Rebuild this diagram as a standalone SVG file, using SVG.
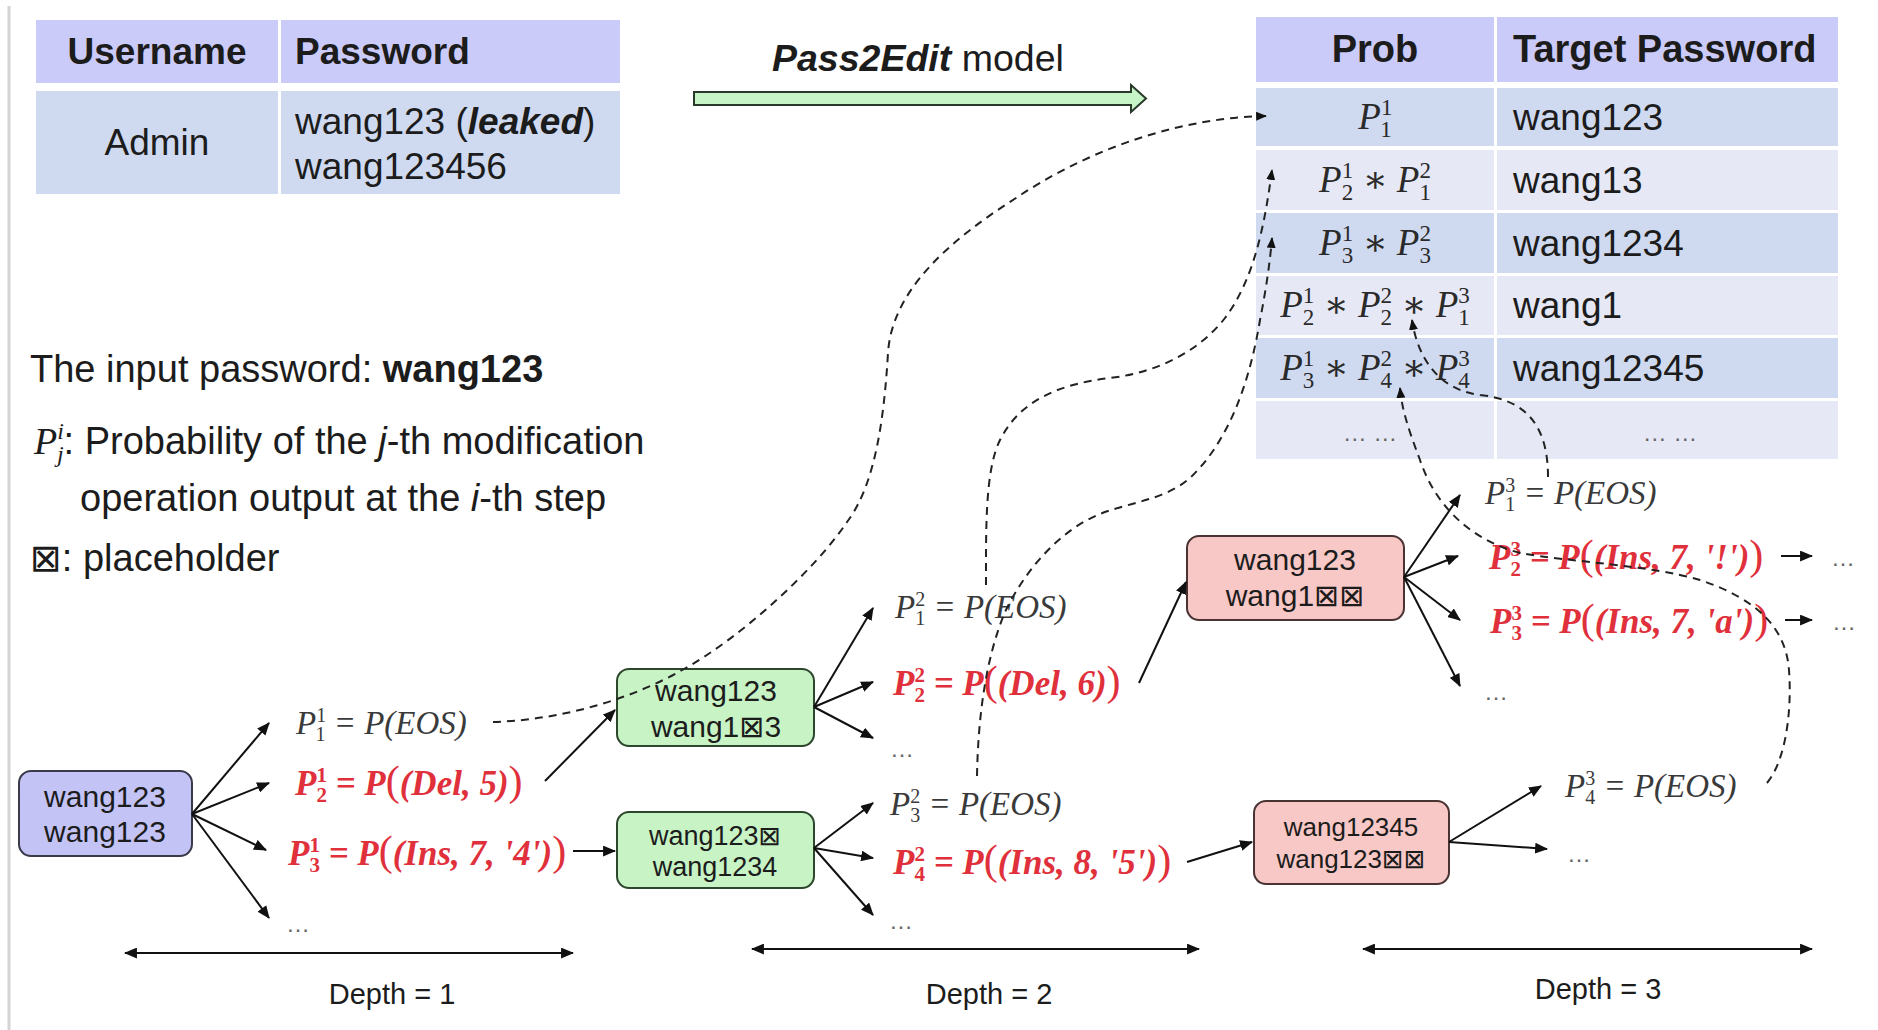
<svg xmlns="http://www.w3.org/2000/svg" width="1878" height="1030" viewBox="0 0 1878 1030">
<defs>
<style>
.sans{font-family:"Liberation Sans",Arial,"DejaVu Sans",sans-serif;fill:#1c1c1c}
.b{font-weight:bold}
.m{font-family:"Liberation Serif","DejaVu Serif",serif;font-style:italic;fill:#3a3a3a;font-size:33px}
.r{font-family:"Liberation Serif","DejaVu Serif",serif;font-style:italic;font-weight:bold;fill:#e0303b;font-size:35px}
.t{font-family:"Liberation Serif","DejaVu Serif",serif;font-style:italic;fill:#2a2a2a;font-size:37px}
.s1{font-size:20px;font-style:normal}
.s2{font-size:21px;font-style:normal}
.s3{font-size:23px;font-style:normal}
.bp{font-size:42px;font-weight:normal;font-style:normal}
.mi{font-family:"Liberation Serif","DejaVu Serif",serif;font-style:italic}
.li{font-family:"Liberation Serif","DejaVu Serif",serif;font-style:italic;font-size:24px}
.ell{font-family:"Liberation Sans",Arial,sans-serif;font-size:24px;fill:#666}
.conn{fill:none;stroke:#111;stroke-width:2}
.dash{fill:none;stroke:#222;stroke-width:2;stroke-dasharray:8 6}
.hdr{fill:#cbcbf9}
.rowA{fill:#cfdaf1}
.rowB{fill:#e6e9f5}
.nb{fill:#c3c3f6;stroke:#3a3a4a;stroke-width:2}
.ng{fill:#c7f3c5;stroke:#2d472d;stroke-width:2}
.np{fill:#f8c8c6;stroke:#4a3333;stroke-width:2}
</style>
<marker id="ah" viewBox="0 0 12 10" refX="11" refY="5" markerWidth="13" markerHeight="11" markerUnits="userSpaceOnUse" orient="auto"><path d="M0,0 L12,5 L0,10 z" fill="#111"/></marker>
<marker id="ahs" viewBox="0 0 12 10" refX="11" refY="5" markerWidth="11" markerHeight="9" markerUnits="userSpaceOnUse" orient="auto"><path d="M0,0 L12,5 L0,10 z" fill="#111"/></marker>
<marker id="ahd" viewBox="0 0 12 10" refX="11" refY="5" markerWidth="13" markerHeight="11" markerUnits="userSpaceOnUse" orient="auto-start-reverse"><path d="M0,0 L12,5 L0,10 z" fill="#111"/></marker>
</defs>
<rect width="1878" height="1030" fill="#ffffff"/>
<line x1="9" y1="6" x2="9" y2="1030" stroke="#d4d4d4" stroke-width="3"/>

<g id="login-table">
<rect class="hdr" x="36" y="20" width="242" height="63"/>
<rect class="hdr" x="281" y="20" width="339" height="63"/>
<rect class="rowA" x="36" y="91" width="242" height="103"/>
<rect class="rowA" x="281" y="91" width="339" height="103"/>
<text class="sans b" x="157" y="64" font-size="37" text-anchor="middle">Username</text>
<text class="sans b" x="295" y="64" font-size="37">Password</text>
<text class="sans" x="157" y="155" font-size="37" text-anchor="middle">Admin</text>
<text class="sans" x="295" y="134" font-size="37">wang123 (<tspan font-weight="bold" font-style="italic">leaked</tspan>)</text>
<text class="sans" x="295" y="179" font-size="37">wang123456</text>
</g>

<g id="model-arrow">
<polygon points="694,92 1131,92 1131,85 1146,98.5 1131,112 1131,105 694,105" fill="#c7f5c7" stroke="#2a3a2a" stroke-width="2"/>
<text class="sans" x="772" y="71" font-size="37.5"><tspan font-weight="bold" font-style="italic">Pass2Edit</tspan> model</text>
</g>

<g id="result-table">
<rect class="hdr" x="1256" y="17" width="238" height="65"/>
<rect class="hdr" x="1497" y="17" width="341" height="65"/>
<rect class="rowA" x="1256" y="88" width="238" height="58"/>
<rect class="rowA" x="1497" y="88" width="341" height="58"/>
<rect class="rowB" x="1256" y="150" width="238" height="60"/>
<rect class="rowB" x="1497" y="150" width="341" height="60"/>
<rect class="rowA" x="1256" y="213" width="238" height="60"/>
<rect class="rowA" x="1497" y="213" width="341" height="60"/>
<rect class="rowB" x="1256" y="276" width="238" height="59"/>
<rect class="rowB" x="1497" y="276" width="341" height="59"/>
<rect class="rowA" x="1256" y="338" width="238" height="60"/>
<rect class="rowA" x="1497" y="338" width="341" height="60"/>
<rect class="rowB" x="1256" y="401" width="238" height="58"/>
<rect class="rowB" x="1497" y="401" width="341" height="58"/>
<text class="sans b" x="1375" y="62" font-size="38" text-anchor="middle">Prob</text>
<text class="sans b" x="1513" y="62" font-size="38">Target Password</text>
<text class="t" x="1375" y="129" text-anchor="middle">P<tspan class="s3" dy="-14">1</tspan><tspan class="s3" dx="-11.5" dy="22">1</tspan></text>
<text class="t" x="1375" y="192" text-anchor="middle">P<tspan class="s3" dy="-14">1</tspan><tspan class="s3" dx="-11.5" dy="22">2</tspan><tspan dy="-8"> ∗ P</tspan><tspan class="s3" dy="-14">2</tspan><tspan class="s3" dx="-11.5" dy="22">1</tspan></text>
<text class="t" x="1375" y="255" text-anchor="middle">P<tspan class="s3" dy="-14">1</tspan><tspan class="s3" dx="-11.5" dy="22">3</tspan><tspan dy="-8"> ∗ P</tspan><tspan class="s3" dy="-14">2</tspan><tspan class="s3" dx="-11.5" dy="22">3</tspan></text>
<text class="t" x="1375" y="317" text-anchor="middle">P<tspan class="s3" dy="-14">1</tspan><tspan class="s3" dx="-11.5" dy="22">2</tspan><tspan dy="-8"> ∗ P</tspan><tspan class="s3" dy="-14">2</tspan><tspan class="s3" dx="-11.5" dy="22">2</tspan><tspan dy="-8"> ∗ P</tspan><tspan class="s3" dy="-14">3</tspan><tspan class="s3" dx="-11.5" dy="22">1</tspan></text>
<text class="t" x="1375" y="380" text-anchor="middle">P<tspan class="s3" dy="-14">1</tspan><tspan class="s3" dx="-11.5" dy="22">3</tspan><tspan dy="-8"> ∗ P</tspan><tspan class="s3" dy="-14">2</tspan><tspan class="s3" dx="-11.5" dy="22">4</tspan><tspan dy="-8"> ∗ P</tspan><tspan class="s3" dy="-14">3</tspan><tspan class="s3" dx="-11.5" dy="22">4</tspan></text>
<text class="ell" x="1370" y="441" font-size="30" text-anchor="middle">… …</text>
<text class="sans" x="1513" y="130" font-size="37">wang123</text>
<text class="sans" x="1513" y="193" font-size="37">wang13</text>
<text class="sans" x="1513" y="256" font-size="37">wang1234</text>
<text class="sans" x="1513" y="318" font-size="37">wang1</text>
<text class="sans" x="1513" y="381" font-size="37">wang12345</text>
<text class="ell" x="1670" y="441" font-size="30" text-anchor="middle">… …</text>
</g>

<g id="legend">
<text class="sans" x="30" y="382" font-size="38">The input password: <tspan font-weight="bold">wang123</tspan></text>
<text class="sans" x="34" y="454" font-size="38"><tspan class="mi">P</tspan><tspan class="li" dy="-15">i</tspan><tspan class="li" dx="-7" dy="23">j</tspan><tspan dy="-8">: Probability of the </tspan><tspan font-style="italic">j</tspan>-th modification</text>
<text class="sans" x="80" y="511" font-size="38">operation output at the <tspan font-style="italic">i</tspan>-th step</text>
<text class="sans" x="30" y="571" font-size="38">⊠: placeholder</text>
</g>

<g id="node-root">
<rect class="nb" x="19" y="771" width="173" height="85" rx="12"/>
<text class="sans" x="105" y="807" font-size="30" text-anchor="middle">wang123</text>
<text class="sans" x="105" y="842" font-size="30" text-anchor="middle">wang123</text>
</g>
<g id="node-d1-del">
<rect class="ng" x="617" y="669" width="197" height="77" rx="12"/>
<text class="sans" x="716" y="701" font-size="30" text-anchor="middle">wang123</text>
<text class="sans" x="716" y="737" font-size="30" text-anchor="middle">wang1⊠3</text>
</g>
<g id="node-d1-ins">
<rect class="ng" x="617" y="812" width="197" height="76" rx="12"/>
<text class="sans" x="715" y="845" font-size="27" text-anchor="middle">wang123⊠</text>
<text class="sans" x="715" y="876" font-size="27" text-anchor="middle">wang1234</text>
</g>
<g id="node-d2-del">
<rect class="np" x="1187" y="536" width="217" height="84" rx="12"/>
<text class="sans" x="1295" y="570" font-size="30" text-anchor="middle">wang123</text>
<text class="sans" x="1295" y="606" font-size="30" text-anchor="middle">wang1⊠⊠</text>
</g>
<g id="node-d2-ins">
<rect class="np" x="1254" y="801" width="195" height="83" rx="12"/>
<text class="sans" x="1351" y="836" font-size="26" text-anchor="middle">wang12345</text>
<text class="sans" x="1351" y="868" font-size="26" text-anchor="middle">wang123⊠⊠</text>
</g>

<g id="labels-depth1">
<text class="m" x="296" y="734">P<tspan class="s1" dy="-12">1</tspan><tspan class="s1" dx="-10" dy="19">1</tspan><tspan dy="-7"> = P(EOS)</tspan></text>
<text class="r" x="295" y="795">P<tspan class="s2" dy="-13">1</tspan><tspan class="s2" dx="-10.5" dy="20">2</tspan><tspan dy="-7"> = P<tspan class="bp">(</tspan>(Del, 5)<tspan class="bp">)</tspan></tspan></text>
<text class="r" x="288" y="865">P<tspan class="s2" dy="-13">1</tspan><tspan class="s2" dx="-10.5" dy="20">3</tspan><tspan dy="-7"> = P<tspan class="bp">(</tspan>(Ins, 7, '4')<tspan class="bp">)</tspan></tspan></text>
<text class="ell" x="286" y="932">…</text>
<text class="sans" x="392" y="1004" font-size="29" text-anchor="middle">Depth = 1</text>
</g>

<g id="labels-depth2">
<text class="m" x="895" y="618">P<tspan class="s1" dy="-12">2</tspan><tspan class="s1" dx="-10" dy="19">1</tspan><tspan dy="-7"> = P(EOS)</tspan></text>
<text class="r" x="893" y="695">P<tspan class="s2" dy="-13">2</tspan><tspan class="s2" dx="-10.5" dy="20">2</tspan><tspan dy="-7"> = P<tspan class="bp">(</tspan>(Del, 6)<tspan class="bp">)</tspan></tspan></text>
<text class="ell" x="890" y="757">…</text>
<text class="m" x="890" y="815">P<tspan class="s1" dy="-12">2</tspan><tspan class="s1" dx="-10" dy="19">3</tspan><tspan dy="-7"> = P(EOS)</tspan></text>
<text class="r" x="893" y="874">P<tspan class="s2" dy="-13">2</tspan><tspan class="s2" dx="-10.5" dy="20">4</tspan><tspan dy="-7"> = P<tspan class="bp">(</tspan>(Ins, 8, '5')<tspan class="bp">)</tspan></tspan></text>
<text class="ell" x="889" y="929">…</text>
<text class="sans" x="989" y="1004" font-size="29" text-anchor="middle">Depth = 2</text>
</g>

<g id="labels-depth3">
<text class="m" x="1485" y="504">P<tspan class="s1" dy="-12">3</tspan><tspan class="s1" dx="-10" dy="19">1</tspan><tspan dy="-7"> = P(EOS)</tspan></text>
<text class="r" x="1489" y="569" font-size="34">P<tspan class="s2" dy="-13">3</tspan><tspan class="s2" dx="-10.5" dy="20">2</tspan><tspan dy="-7"> = P<tspan class="bp">(</tspan>(Ins, 7, '!')<tspan class="bp">)</tspan></tspan></text>
<text class="r" x="1490" y="633" font-size="34">P<tspan class="s2" dy="-13">3</tspan><tspan class="s2" dx="-10.5" dy="20">3</tspan><tspan dy="-7"> = P<tspan class="bp">(</tspan>(Ins, 7, 'a')<tspan class="bp">)</tspan></tspan></text>
<text class="ell" x="1831" y="566">…</text>
<text class="ell" x="1832" y="630">…</text>
<text class="ell" x="1484" y="700">…</text>
<text class="m" x="1565" y="797">P<tspan class="s1" dy="-12">3</tspan><tspan class="s1" dx="-10" dy="19">4</tspan><tspan dy="-7"> = P(EOS)</tspan></text>
<text class="ell" x="1567" y="862">…</text>
<text class="sans" x="1598" y="999" font-size="29" text-anchor="middle">Depth = 3</text>
</g>

<g id="connectors">
<path class="conn" d="M192,814 L269,723" marker-end="url(#ah)"/>
<path class="conn" d="M192,814 L269,783" marker-end="url(#ah)"/>
<path class="conn" d="M192,814 L266,850" marker-end="url(#ah)"/>
<path class="conn" d="M192,814 L269,918" marker-end="url(#ah)"/>
<path class="conn" d="M545,781 L615,710" marker-end="url(#ah)"/>
<path class="conn" d="M573,851 L615,851" marker-end="url(#ah)"/>
<path class="conn" d="M814,707 L873,608" marker-end="url(#ah)"/>
<path class="conn" d="M814,707 L873,682" marker-end="url(#ah)"/>
<path class="conn" d="M814,707 L873,738" marker-end="url(#ah)"/>
<path class="conn" d="M814,848 L873,803" marker-end="url(#ah)"/>
<path class="conn" d="M814,848 L873,858" marker-end="url(#ah)"/>
<path class="conn" d="M814,848 L873,915" marker-end="url(#ah)"/>
<path class="conn" d="M1139,683 L1186,582" marker-end="url(#ah)"/>
<path class="conn" d="M1187,862 L1252,842" marker-end="url(#ah)"/>
<path class="conn" d="M1404,577 L1460,495" marker-end="url(#ah)"/>
<path class="conn" d="M1404,577 L1458,556" marker-end="url(#ah)"/>
<path class="conn" d="M1404,577 L1460,620" marker-end="url(#ah)"/>
<path class="conn" d="M1404,577 L1460,686" marker-end="url(#ah)"/>
<path class="conn" d="M1449,842 L1541,786" marker-end="url(#ah)"/>
<path class="conn" d="M1449,842 L1547,849" marker-end="url(#ah)"/>
<path class="conn" d="M1781,556 L1812,556" marker-end="url(#ah)"/>
<path class="conn" d="M1785,620 L1812,620" marker-end="url(#ah)"/>
<path class="conn" stroke-width="2.5" d="M125,953 L573,953" marker-start="url(#ahd)" marker-end="url(#ahd)"/>
<path class="conn" stroke-width="2.5" d="M752,949 L1199,949" marker-start="url(#ahd)" marker-end="url(#ahd)"/>
<path class="conn" stroke-width="2.5" d="M1363,949 L1812,949" marker-start="url(#ahd)" marker-end="url(#ahd)"/>
<path class="dash" d="M493,722 C560,720 630,700 684,669 C740,638 815,570 847,522 C875,485 884,420 888,353 C892,290 950,240 1016,198 C1080,155 1170,118 1266,116" marker-end="url(#ahs)"/>
<path class="dash" d="M986,585 C986,530 985,470 1000,440 C1020,400 1060,384 1110,378 C1160,372 1200,350 1225,318 C1255,278 1265,222 1272,170" marker-end="url(#ahs)"/>
<path class="dash" d="M977,776 C978,720 985,660 1005,612 C1025,570 1060,530 1100,514 C1130,502 1165,500 1190,478 C1230,440 1250,380 1260,320 C1266,290 1270,262 1272,238" marker-end="url(#ahs)"/>
<path class="dash" d="M1548,477 C1548,430 1530,400 1480,395 C1440,390 1418,360 1412,320" marker-end="url(#ahs)"/>
<path class="dash" d="M1767,783 C1786,760 1792,710 1789,670 C1786,630 1760,600 1700,580 C1650,565 1570,562 1520,553 C1470,540 1435,505 1420,460 C1408,428 1402,410 1400,388" marker-end="url(#ahs)"/>
</g>
</svg>
